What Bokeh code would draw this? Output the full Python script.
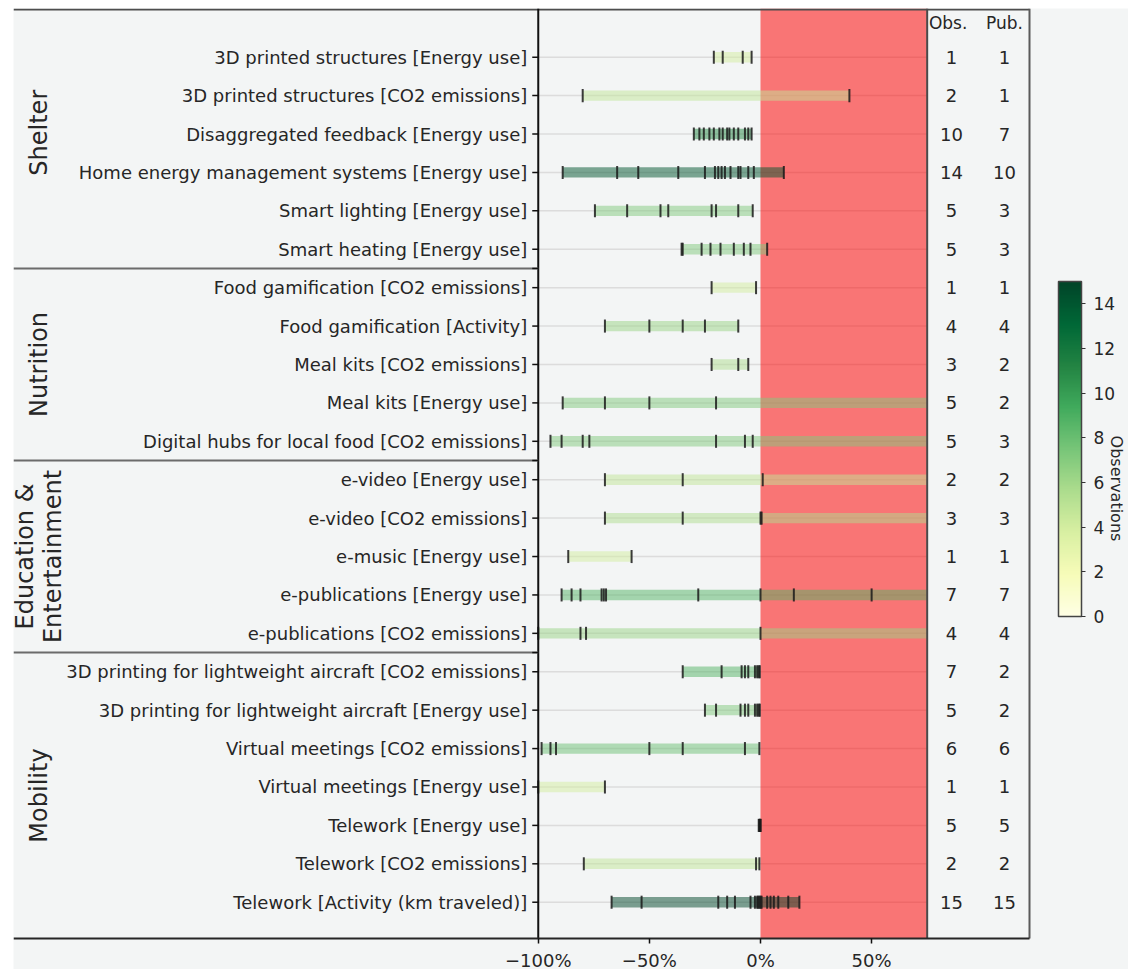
import math
from bokeh.plotting import figure
from bokeh.models import Range1d, FixedTicker, LinearColorMapper, ColorBar, ColumnDataSource
from bokeh.palettes import YlGn
from bokeh.transform import transform
from bokeh.core.properties import value
from bokeh.embed import file_html
from bokeh.resources import INLINE

# ---------------- data ----------------
labels = [
    "3D printed structures [Energy use]",
    "3D printed structures [CO2 emissions]",
    "Disaggregated feedback [Energy use]",
    "Home energy management systems [Energy use]",
    "Smart lighting [Energy use]",
    "Smart heating [Energy use]",
    "Food gamification [CO2 emissions]",
    "Food gamification [Activity]",
    "Meal kits [CO2 emissions]",
    "Meal kits [Energy use]",
    "Digital hubs for local food [CO2 emissions]",
    "e-video [Energy use]",
    "e-video [CO2 emissions]",
    "e-music [Energy use]",
    "e-publications [Energy use]",
    "e-publications [CO2 emissions]",
    "3D printing for lightweight aircraft [CO2 emissions]",
    "3D printing for lightweight aircraft [Energy use]",
    "Virtual meetings [CO2 emissions]",
    "Virtual meetings [Energy use]",
    "Telework [Energy use]",
    "Telework [CO2 emissions]",
    "Telework [Activity (km traveled)]",
]
group_names = ["Shelter", "Nutrition", "Education &\nEntertainment", "Mobility"]
group_sizes = [6, 5, 5, 7]
obs = [1, 2, 10, 14, 5, 5, 1, 4, 3, 5, 5, 2, 3, 1, 7, 4, 7, 5, 6, 1, 5, 2, 15]
pubs = [1, 1, 7, 10, 3, 3, 1, 4, 2, 2, 3, 2, 3, 1, 7, 4, 2, 2, 6, 1, 5, 2, 15]
values = [
    [-21, -17, -8, -4],
    [-80, 40],
    [-30, -27.5, -25.5, -23, -21, -18.5, -17, -15, -14, -12, -10, -7, -5.5, -4],
    [-89, -64.5, -55, -37, -25, -20.5, -19, -17.5, -16, -13.5, -10, -9, -5.5, -3, 10.5],
    [-74.5, -60, -45, -41.5, -22, -20, -10, -3.5],
    [-35.5, -35, -26.5, -22.5, -18, -12, -7.5, -4.5, 3],
    [-22, -2],
    [-70, -50, -35, -25, -10],
    [-22, -10, -5.5],
    [-89, -70, -50, -20, 100],
    [-94.5, -89.5, -80, -77, -20, -7, -3.5, 100],
    [-70, -35, 1, 100],
    [-70, -35, 0, 0.5, 100],
    [-86.5, -58],
    [-89.5, -85, -81, -71.5, -70.5, -69.5, -28, 0, 15, 50, 100],
    [-100, -81, -78.5, 0, 100],
    [-35, -17.5, -8.5, -7, -5.5, -2.5, -1.5, -0.8, -0.3],
    [-25, -20, -9, -7, -5.5, -2.5, -1.5, -0.8, -0.3],
    [-98.5, -94.5, -92, -50, -35, -7, -0.5],
    [-100, -70],
    [-0.8, -0.5, -0.3, 0, 0],
    [-79.5, -2, -0.5],
    [-67, -53.5, -19, -15, -11.5, -4.5, -2.5, -1.5, -1, -0.5, 0, 0.5, 3, 4.5, 6, 8, 12.5, 17.5],
]
x_ticks = [-100, -50, 0, 50]
x_tick_labels = ["\u2212100%", "\u221250%", "0%", "50%"]
cbar_ticks = [0, 2, 4, 6, 8, 10, 12, 14]
obs_range = (0, 15)
red_zone = (0, 75)
table_headers = ["Obs.", "Pub."]

# ---------------- geometry ----------------
W, H = 1128, 969
FL, FT = 13, 8                 # frame left / top in canvas px
PX_X = 2.2225                  # px per percent
PX_Y = 38.41                   # px per row
def xd(px):
    return (px - 760) / PX_X
def yd(py):
    return (py - 56.7) / PX_Y
X0, X1 = xd(FL), xd(W)
Y_TOP, Y_BOT = yd(FT), yd(H)
Y_AXIS = yd(938)
X_TABLE_R = xd(1029)
X_OBS = xd(951)
X_PUB = xd(1004)
BG = "#f3f5f5"
TXT = "#262626"
FONT = value("DejaVu Sans")

try:
    from bokeh.palettes import interp_palette
    PAL = list(interp_palette(list(reversed(YlGn[9])), 256))
except Exception:
    PAL = list(reversed(YlGn[9]))

rows = list(range(len(labels)))
n = len(rows)

p = figure(width=W, height=H,
           x_range=Range1d(X0, X1), y_range=Range1d(Y_BOT, Y_TOP),
           output_backend="svg", toolbar_location=None, y_axis_location=None,
           min_border_left=FL, min_border_right=0, min_border_top=FT, min_border_bottom=0,
           background_fill_color=BG, border_fill_color="white", outline_line_color=None)
p.grid.visible = False

# grid lines
p.segment(x0=[-100] * n, x1=[red_zone[1]] * n, y0=rows, y1=rows,
          line_color="#dcdcdc", line_width=1.5)

# red zone
p.quad(left=[red_zone[0]], right=[red_zone[1]], top=[Y_TOP], bottom=[Y_AXIS],
       fill_color="#ff0000", fill_alpha=0.52, line_color=None)

# range bars
bar_mapper = LinearColorMapper(palette=PAL, low=-4, high=obs_range[1])
bsrc = ColumnDataSource(dict(
    y=rows,
    left=[max(min(v), -100) for v in values],
    right=[min(max(v), red_zone[1]) for v in values],
    obs=obs,
))
p.hbar(y="y", left="left", right="right", height=0.27, source=bsrc,
       fill_color=transform("obs", bar_mapper), fill_alpha=0.5, line_color=None)

# observation ticks
tx, ty = [], []
for r, vals in zip(rows, values):
    for v in vals:
        if -100 <= v <= red_zone[1]:
            tx.append(v)
            ty.append(r)
p.segment(x0=tx, x1=tx, y0=[t - 0.17 for t in ty], y1=[t + 0.17 for t in ty],
          line_color="#1a1a1a", line_width=2, line_alpha=0.85)

# frame lines
p.segment(x0=[X0], x1=[X_TABLE_R], y0=[Y_TOP + 1 / PX_Y], y1=[Y_TOP + 1 / PX_Y],
          line_color="#4d4d4d", line_width=2)
p.segment(x0=[-100], x1=[-100], y0=[Y_TOP], y1=[Y_AXIS], line_color="#111111", line_width=2)
p.segment(x0=[red_zone[1]], x1=[red_zone[1]], y0=[Y_TOP], y1=[Y_AXIS],
          line_color="#4a4a4a", line_width=2)
p.segment(x0=[X_TABLE_R], x1=[X_TABLE_R], y0=[Y_TOP], y1=[Y_AXIS],
          line_color="#5a5a5a", line_width=2)

# group separators and group labels
bounds = [Y_TOP]
acc = 0
for s in group_sizes:
    acc += s
    bounds.append(acc - 0.5)
bounds[-1] = Y_AXIS
seps = bounds[1:-1]
p.segment(x0=[X0] * len(seps), x1=[-100] * len(seps), y0=seps, y1=seps,
          line_color="#6b6b6b", line_width=2)
ytick_pos = rows + seps
p.segment(x0=[-100 - 6 / PX_X] * len(ytick_pos), x1=[-100] * len(ytick_pos),
          y0=ytick_pos, y1=ytick_pos, line_color="#111111", line_width=1.5)
gcent = [(bounds[i] + bounds[i + 1]) / 2 for i in range(len(group_names))]
gcent[0] -= 0.15
p.text(x=[xd(38)] * len(group_names), y=gcent, text=group_names,
       angle=math.pi / 2, text_align="center", text_baseline="middle",
       text_font=FONT, text_font_size="24px", text_color=TXT, text_line_height=1.0)

# category labels
p.text(x=[-100] * n, y=rows, text=labels, x_offset=-11, text_align="right",
       text_baseline="middle", text_font=FONT, text_font_size="18px", text_color=TXT)

# table
p.text(x=[X_OBS - 1.5, X_PUB], y=[yd(22.5)] * 2, text=table_headers,
       text_align="center", text_baseline="middle", text_font=FONT,
       text_font_size="17px", text_color=TXT)
p.text(x=[X_OBS] * n, y=rows, text=[str(o) for o in obs], text_align="center",
       text_baseline="middle", text_font=FONT, text_font_size="18px", text_color=TXT)
p.text(x=[X_PUB] * n, y=rows, text=[str(o) for o in pubs], text_align="center",
       text_baseline="middle", text_font=FONT, text_font_size="18px", text_color=TXT)

# x axis
xa = p.xaxis[0]
xa.ticker = FixedTicker(ticks=x_ticks)
xa.major_label_overrides = {t: l for t, l in zip(x_ticks, x_tick_labels)}
xa.fixed_location = Y_AXIS
xa.bounds = (X0, X_TABLE_R)
xa.minor_tick_line_color = None
xa.major_tick_out = 5
xa.major_tick_in = 0
xa.major_tick_line_color = "#111111"
xa.major_tick_line_width = 1.5
xa.axis_line_color = "#262626"
xa.axis_line_width = 2
xa.major_label_text_font = "DejaVu Sans"
xa.major_label_text_font_size = "18px"
xa.major_label_text_color = TXT
xa.major_label_standoff = 6

# colour bar
cb_mapper = LinearColorMapper(palette=PAL, low=obs_range[0], high=obs_range[1])
cb = ColorBar(color_mapper=cb_mapper, ticker=FixedTicker(ticks=cbar_ticks),
              width=23, height=335, location=(1058 - FL, H - 616), padding=0,
              background_fill_alpha=0, border_line_color=None,
              bar_line_color="#444444", bar_line_width=1.5,
              major_tick_out=4, major_tick_in=0, major_tick_line_color="#333333",
              minor_tick_line_color=None, label_standoff=8,
              major_label_text_font="DejaVu Sans", major_label_text_font_size="17px",
              major_label_text_color=TXT)
p.add_layout(cb)
p.text(x=[xd(1116)], y=[yd(488)], text=["Observations"],
       angle=-math.pi / 2, text_align="center", text_baseline="middle",
       text_font=FONT, text_font_size="16px", text_color=TXT)

open("out.html", "w").write(file_html(p, INLINE))
